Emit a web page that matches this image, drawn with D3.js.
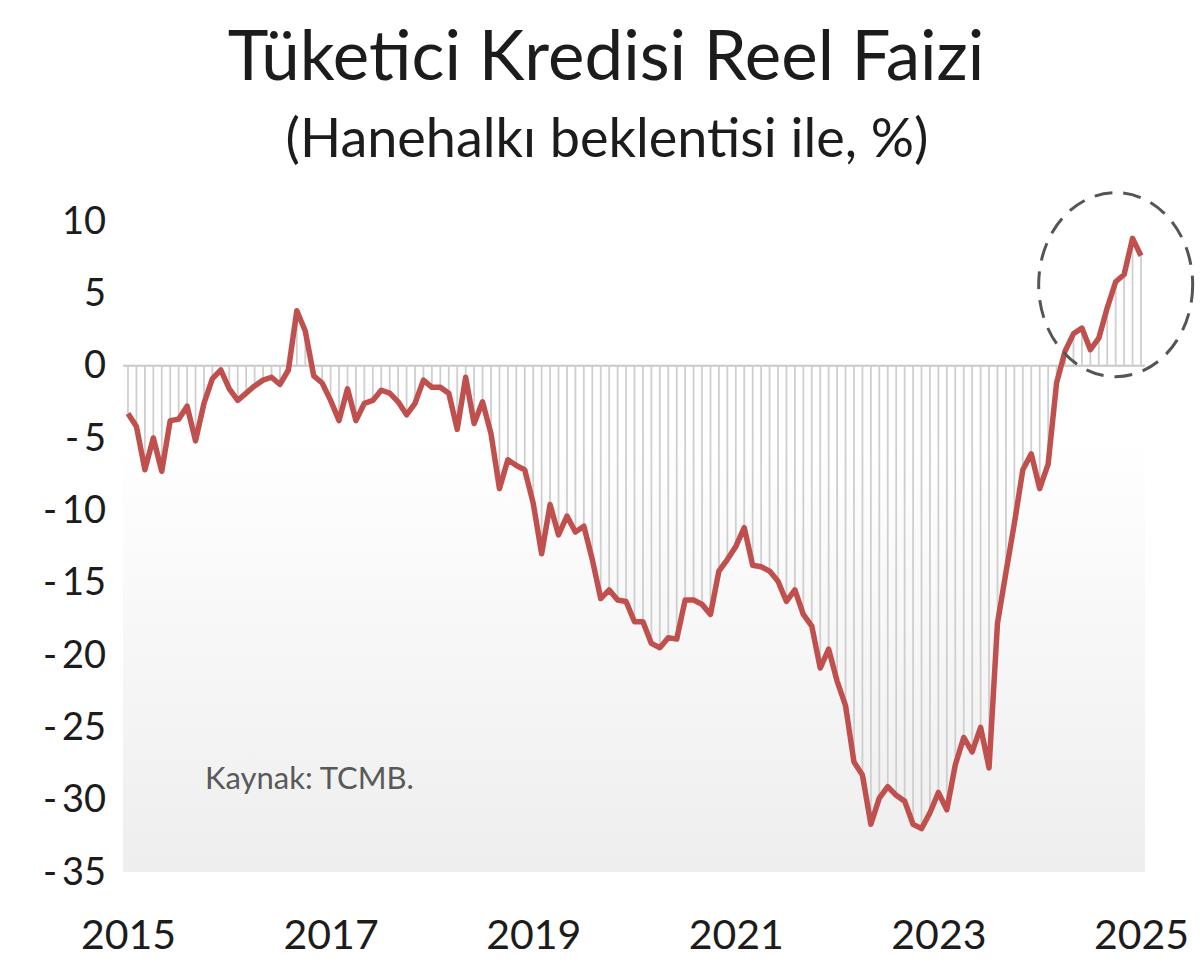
<!DOCTYPE html>
<html>
<head>
<meta charset="utf-8">
<script src="https://cdn.jsdelivr.net/npm/d3@7"></script>
<style>
  body { margin: 0; background: #fff; }
  svg { display: block; font-family: Lato, 'Noto Sans', sans-serif; }
</style>
</head>
<body>
<script>
const width = 1200
const height = 974

// monthly real rate, Jan 2015 .. Jan 2025
const values = [
  -3.3, -4.2, -7.2, -5.0, -7.3, -3.8, -3.7, -2.8, -5.2, -2.6, -0.9, -0.3,
  -1.6, -2.4, -1.9, -1.4, -1.0, -0.8, -1.3, -0.3, 3.8, 2.4, -0.7, -1.2,
  -2.4, -3.8, -1.6, -3.8, -2.6, -2.4, -1.7, -1.9, -2.5, -3.4, -2.6, -1.0,
  -1.5, -1.5, -1.9, -4.4, -0.8, -4.0, -2.5, -4.7, -8.5, -6.5, -6.9, -7.2,
  -9.5, -13.0, -9.6, -11.7, -10.4, -11.5, -11.1, -13.4, -16.1, -15.5, -16.2, -16.3,
  -17.7, -17.7, -19.2, -19.5, -18.8, -18.9, -16.2, -16.2, -16.5, -17.2, -14.2, -13.4,
  -12.5, -11.2, -13.8, -13.9, -14.2, -14.9, -16.3, -15.5, -17.2, -18.0, -20.9, -19.6,
  -21.8, -23.5, -27.4, -28.3, -31.7, -29.9, -29.1, -29.7, -30.1, -31.7, -32.0, -30.9,
  -29.5, -30.7, -27.6, -25.7, -26.7, -25.0, -27.8, -17.8, -14.3, -10.9, -7.2, -6.1,
  -8.5, -6.8, -1.2, 1.0, 2.2, 2.6, 1.1, 1.9, 4.0, 5.8, 6.3, 8.8,
  7.6
]
const yearLabels = ['2015', '2017', '2019', '2021', '2023', '2025']
const yearTickIdx = [0, 24, 48, 72, 96, 120]
const yTicks = [10, 5, 0, -5, -10, -15, -20, -25, -30, -35]

const title = 'Tüketici Kredisi Reel Faizi'
const subtitle = '(Hanehalkı beklentisi ile, %)'
const source = 'Kaynak: TCMB.'

const svg = d3.select('body').append('svg')
  .attr('width', width)
  .attr('height', height)

const x = d3.scaleLinear().domain([0, values.length - 1]).range([128, 1141])
const y = d3.scaleLinear().domain([-35, 10]).range([872, 221])

const defs = svg.append('defs')
const grad = defs.append('linearGradient')
    .attr('id', 'bg')
    .attr('x1', 0).attr('y1', 0).attr('x2', 0).attr('y2', 1)
grad.append('stop').attr('offset', '0%').attr('stop-color', '#ffffff')
grad.append('stop').attr('offset', '35%').attr('stop-color', '#ffffff')
grad.append('stop').attr('offset', '100%').attr('stop-color', '#eeeeee')

// plot background
svg.append('rect')
  .attr('x', 123)
  .attr('y', y(10) - 20)
  .attr('width', 1145 - 123)
  .attr('height', y(-35) - y(10) + 20)
  .attr('fill', 'url(#bg)')

// titles
svg.append('text')
  .attr('x', 606).attr('y', 80)
  .attr('text-anchor', 'middle')
  .attr('font-size', 69)
  .attr('fill', '#1c1c1c')
  .text(title)

svg.append('text')
  .attr('x', 607).attr('y', 157)
  .attr('text-anchor', 'middle')
  .attr('font-size', 54)
  .attr('fill', '#1c1c1c')
  .text(subtitle)

// zero line
svg.append('line')
  .attr('x1', 123).attr('x2', 1145)
  .attr('y1', y(0)).attr('y2', y(0))
  .attr('stroke', '#c8c8c8')
  .attr('stroke-width', 2)

// drop lines
svg.append('g')
    .attr('class', 'drops')
  .selectAll('line')
  .data(values)
  .enter().append('line')
    .attr('x1', (d, i) => x(i))
    .attr('x2', (d, i) => x(i))
    .attr('y1', y(0))
    .attr('y2', d => y(d))
    .attr('stroke', '#cfcfcf')
    .attr('stroke-width', 1.8)

// main line
svg.append('path')
  .datum(values)
  .attr('fill', 'none')
  .attr('stroke', '#c0504d')
  .attr('stroke-width', 5.5)
  .attr('stroke-linejoin', 'round')
  .attr('d', d3.line().x((d, i) => x(i)).y(d => y(d)))

// y axis labels
const yAxis = svg.append('g')
  .attr('transform', 'translate(106,0)')
  .call(d3.axisLeft(y).tickValues(yTicks).tickSize(0).tickPadding(0)
    .tickFormat(d => d < 0 ? '-\u2009' + Math.abs(d) : d))
yAxis.select('.domain').remove()
yAxis.selectAll('text')
  .attr('font-family', 'Lato, sans-serif')
  .attr('font-size', 38)
  .attr('fill', '#1c1c1c')

// x axis labels
const xAxis = svg.append('g')
  .attr('transform', 'translate(0,' + 900 + ')')
  .call(d3.axisBottom(x).tickValues(yearTickIdx).tickSize(0).tickPadding(0)
    .tickFormat((d, i) => yearLabels[i]))
xAxis.select('.domain').remove()
xAxis.selectAll('text')
  .attr('font-family', 'Lato, sans-serif')
  .attr('font-size', 41)
  .attr('fill', '#1c1c1c')
  .attr('dy', '1.2em')

// highlight circle around the recent months
svg.append('ellipse')
  .attr('cx', x(117))
  .attr('cy', y(5.6))
  .attr('rx', 77)
  .attr('ry', 92)
  .attr('fill', 'none')
  .attr('stroke', '#555')
  .attr('stroke-width', 3)
  .attr('stroke-dasharray', '18,11')

svg.append('text')
  .attr('x', 205).attr('y', 789)
  .attr('font-size', 31)
  .attr('fill', '#595959')
  .text(source)
</script>
</body>
</html>
